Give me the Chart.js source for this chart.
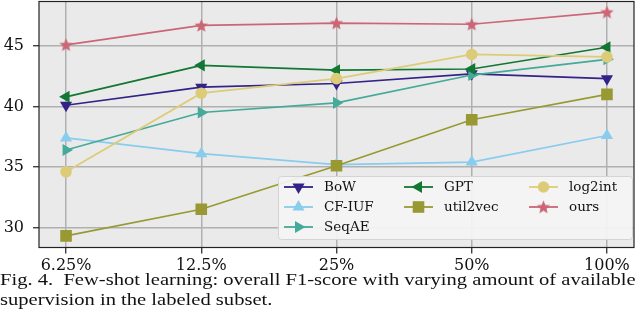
<!DOCTYPE html>
<html>
<head>
<meta charset="utf-8">
<script src="https://cdn.jsdelivr.net/npm/chart.js@4.4.1/dist/chart.umd.min.js"></script>
<style>
    body { margin: 0; background: #fff; }
    #wrap { position: relative; width: 640px; height: 328px; overflow: hidden; }
    #chartBox { position: absolute; left: 0; top: 0; width: 640px; height: 282px; }
    #caption {
        position: absolute; left: 0; top: 270px;
        font-family: "Liberation Serif", serif; font-size: 17px; line-height: 20px; color: #111;
        white-space: nowrap; transform-origin: 0 0;
    }
</style>
</head>
<body>
<div id="wrap">
    <div id="chartBox"><canvas id="fewShotChart"></canvas></div>
    <div id="caption">
        <div id="capLine1">Fig. 4.&nbsp; Few-shot learning: overall F1-score with varying amount of available</div>
        <div>supervision in the labeled subset.</div>
    </div>
</div>
<script>
// amount of labeled supervision
const categories = ['6.25%', '12.5%', '25%', '50%', '100%'];
const yTicks = [30, 35, 40, 45];

// F1-score per method
const bow      = [40.1, 41.6, 41.9, 42.7, 42.3];
const cfIuf    = [37.4, 36.1, 35.2, 35.4, 37.6];
const seqAe    = [36.4, 39.5, 40.3, 42.6, 43.9];
const gpt      = [40.8, 43.4, 43.0, 43.1, 44.9];
const util2vec = [29.3, 31.5, 35.1, 38.9, 41.0];
const log2int  = [34.6, 41.1, 42.3, 44.3, 44.1];
const ours     = [45.1, 46.7, 46.9, 46.8, 47.8];

// filled five point star, like matplotlib '*'
function makeStar(color, size) {
    const c = document.createElement('canvas');
    c.width = size; c.height = size;
    const g = c.getContext('2d');
    const cx = size / 2, cy = size / 2 + 0.5, R = size / 2 - 0.5, r = R * 0.45;
    g.beginPath();
    for (let i = 0; i < 10; i++) {
        const a = -Math.PI / 2 + i * Math.PI / 5;
        const rr = i % 2 === 0 ? R : r;
        g.lineTo(cx + rr * Math.cos(a), cy + rr * Math.sin(a));
    }
    g.closePath();
    g.fillStyle = color;
    g.fill();
    return c;
}

const series = [
    { label: 'BoW',      data: bow,      color: '#332288', style: 'triangle', rot: 180, radius: 7 },
    { label: 'CF-IUF',   data: cfIuf,    color: '#88CCEE', style: 'triangle', rot: 0,   radius: 7 },
    { label: 'SeqAE',    data: seqAe,    color: '#44AA99', style: 'triangle', rot: 90,  radius: 7 },
    { label: 'GPT',      data: gpt,      color: '#117733', style: 'triangle', rot: 270, radius: 7 },
    { label: 'util2vec', data: util2vec, color: '#999933', style: 'rect',     rot: 0,   radius: 8.2 },
    { label: 'log2int',  data: log2int,  color: '#DDCC77', style: 'circle',   rot: 0,   radius: 5.8 },
    { label: 'ours',     data: ours,     color: '#CC6677', style: 'star',     rot: 0,   radius: 7 }
];
series.forEach(s => {
    if (s.style === 'star') s.style = makeStar(s.color, 15);
});

// legend layout: [column, row] for each series
const legendSlots = [[0, 0], [0, 1], [0, 2], [1, 0], [1, 1], [2, 0], [2, 1]];

function drawLegendMarker(ctx, s, x, y) {
    ctx.save();
    ctx.fillStyle = s.color;
    ctx.translate(x, y);
    if (s.style instanceof HTMLCanvasElement) {
        ctx.drawImage(s.style, -s.style.width / 2, -s.style.height / 2);
    } else if (s.style === 'rect') {
        const h = s.radius * Math.SQRT1_2;
        ctx.fillRect(-h, -h, 2 * h, 2 * h);
    } else if (s.style === 'circle') {
        ctx.beginPath();
        ctx.arc(0, 0, s.radius, 0, Math.PI * 2);
        ctx.fill();
    } else {
        ctx.rotate(s.rot * Math.PI / 180);
        const r = s.radius;
        ctx.beginPath();
        for (let i = 0; i < 3; i++) {
            const a = i * 2 * Math.PI / 3;
            ctx.lineTo(Math.sin(a) * r, -Math.cos(a) * r);
        }
        ctx.closePath();
        ctx.fill();
    }
    ctx.restore();
}

const plotStyle = {
    id: 'plotStyle',
    beforeDraw(chart) {
        const { ctx, chartArea: a } = chart;
        ctx.save();
        ctx.fillStyle = '#EAEAEA';
        ctx.fillRect(a.left, a.top, a.right - a.left, a.bottom - a.top);
        ctx.restore();
    },
    afterDraw(chart) {
        const { ctx, chartArea: a } = chart;
        ctx.save();
        // axes frame
        ctx.strokeStyle = '#222';
        ctx.lineWidth = 1.2;
        ctx.strokeRect(a.left, a.top, a.right - a.left, a.bottom - a.top);

        // legend box
        const bx = 278.5, by = 176.5, bw = 354, bh = 63;
        ctx.beginPath();
        ctx.roundRect(bx, by, bw, bh, 3);
        ctx.fillStyle = 'rgba(244,244,244,0.93)';
        ctx.fill();
        ctx.strokeStyle = '#d4d4d4';
        ctx.lineWidth = 1;
        ctx.stroke();

        const colX = [284, 404, 529];
        const rowY = [187, 207, 227];
        ctx.font = '13.5px "DejaVu Serif"';
        ctx.textBaseline = 'middle';
        ctx.textAlign = 'left';
        series.forEach((s, i) => {
            const [c, r] = legendSlots[i];
            const x = colX[c], y = rowY[r];
            ctx.strokeStyle = s.color;
            ctx.lineWidth = 1.8;
            ctx.beginPath();
            ctx.moveTo(x, y);
            ctx.lineTo(x + 29, y);
            ctx.stroke();
            drawLegendMarker(ctx, s, x + 14.5, y);
            ctx.fillStyle = '#111';
            ctx.fillText(s.label, x + 40, y + 0.5);
        });
        ctx.restore();
    }
};

const noPad = scale => {
    scale.paddingTop = 0;
    scale.paddingBottom = 0;
    scale.paddingLeft = 0;
    scale.paddingRight = 0;
};

new Chart(document.getElementById('fewShotChart'), {
    type: 'line',
    data: {
        datasets: series.map((s, i) => ({
            label: s.label,
            data: s.data.map((v, k) => ({ x: k, y: v })),
            borderColor: s.color,
            backgroundColor: s.color,
            borderWidth: 1.7,
            pointStyle: s.style,
            rotation: s.rot,
            pointRadius: s.radius,
            pointBorderWidth: 0,
            pointHoverRadius: s.radius,
            tension: 0,
            order: series.length - i
        }))
    },
    options: {
        responsive: true,
        maintainAspectRatio: false,
        animation: false,
        events: [],
        layout: { autoPadding: false, padding: { top: 1.5, right: 6, left: 0, bottom: 0 } },
        plugins: { legend: { display: false }, tooltip: { enabled: false } },
        scales: {
            x: {
                type: 'linear',
                min: -0.2,
                max: 4.2,
                afterBuildTicks: scale => { scale.ticks = categories.map((c, k) => ({ value: k })); },
                afterFit: scale => { scale.height = 34.5; noPad(scale); },
                border: { display: false },
                grid: { color: '#b0b0b0', lineWidth: 1.5, tickLength: 6, tickColor: '#222', tickWidth: 1.2 },
                ticks: {
                    color: '#111',
                    padding: 3,
                    maxRotation: 0,
                    font: { family: 'DejaVu Serif', size: 16 },
                    callback: v => categories[v]
                }
            },
            y: {
                min: 28.34,
                max: 48.68,
                afterBuildTicks: scale => { scale.ticks = yTicks.map(v => ({ value: v })); },
                afterFit: scale => { scale.width = 39; noPad(scale); },
                border: { display: false },
                grid: { color: '#b0b0b0', lineWidth: 1.5, tickLength: 6, tickColor: '#222', tickWidth: 1.2 },
                ticks: {
                    color: '#111',
                    padding: 9,
                    font: { family: 'DejaVu Serif', size: 16 }
                }
            }
        }
    },
    plugins: [plotStyle]
});

// the caption in the figure is set wider than the plain font, so stretch it to the full width
const cap = document.getElementById('caption');
const line1 = document.getElementById('capLine1');
const k = 635 / line1.scrollWidth;
cap.style.transform = 'scaleX(' + k + ')';
</script>
</body>
</html>
